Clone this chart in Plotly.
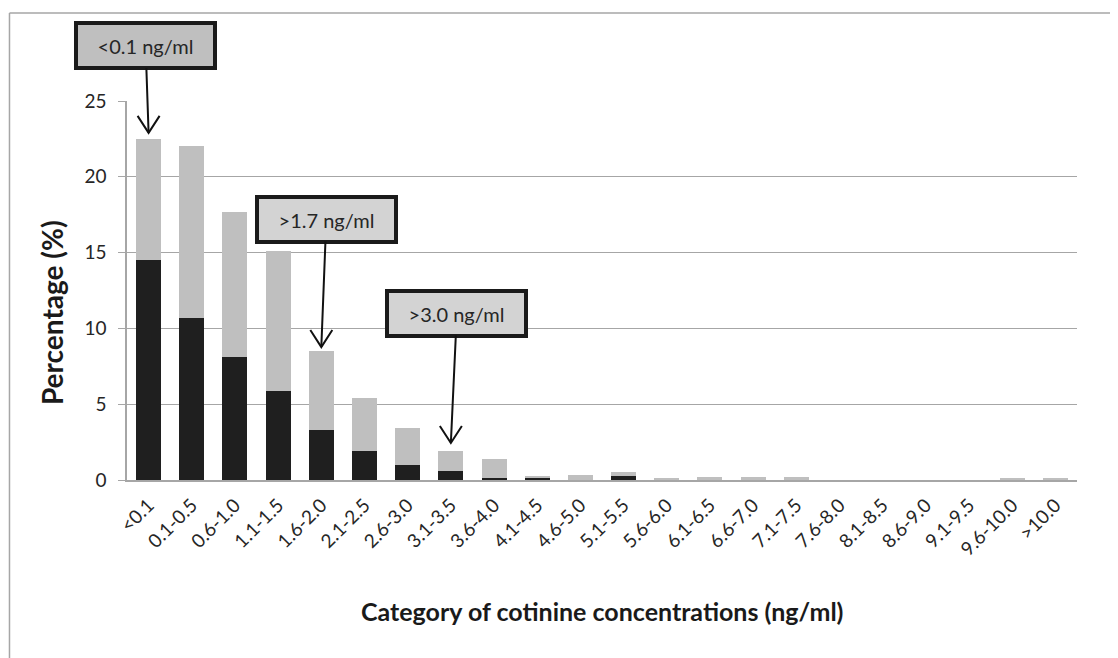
import plotly.graph_objects as go

categories = ["<0.1", "0.1-0.5", "0.6-1.0", "1.1-1.5", "1.6-2.0", "2.1-2.5", "2.6-3.0",
              "3.1-3.5", "3.6-4.0", "4.1-4.5", "4.6-5.0", "5.1-5.5", "5.6-6.0", "6.1-6.5",
              "6.6-7.0", "7.1-7.5", "7.6-8.0", "8.1-8.5", "8.6-9.0", "9.1-9.5", "9.6-10.0", ">10.0"]
black_part = [14.5, 10.7, 8.1, 5.9, 3.3, 1.9, 1.0, 0.6, 0.15, 0.15, 0.0, 0.27, 0.0, 0.0,
              0.0, 0.0, 0.0, 0.0, 0.0, 0.0, 0.0, 0.0]
total = [22.5, 22.0, 17.7, 15.1, 8.5, 5.4, 3.4, 1.9, 1.4, 0.2, 0.33, 0.5, 0.12, 0.2,
         0.2, 0.2, 0.0, 0.0, 0.0, 0.0, 0.1, 0.1]
gray_part = [round(t - b, 3) for t, b in zip(total, black_part)]

callout_labels = ["<0.1 ng/ml", ">1.7 ng/ml", ">3.0 ng/ml"]
callout_cats = ["<0.1", "1.6-2.0", "3.1-3.5"]
callout_tips = [22.9, 8.77, 2.44]
callout_fill = ["#bfbfbf", "#d3d3d3", "#d3d3d3"]
callout_ax = [-3, 5, 6]
callout_ay = [-87, -128, -130]

FONT = "Lato, 'Open Sans', sans-serif"
GRID = "#a6a6a6"

fig = go.Figure()
fig.add_trace(go.Bar(x=categories, y=black_part, marker=dict(color="#1f1f1f", line=dict(width=0)),
                     showlegend=False))
fig.add_trace(go.Bar(x=categories, y=gray_part, marker=dict(color="#bfbfbf", line=dict(width=0)),
                     showlegend=False))

for lab, cat, tip, fill, ax, ay in zip(callout_labels, callout_cats, callout_tips, callout_fill,
                                        callout_ax, callout_ay):
    fig.add_annotation(x=cat, y=tip, xref="x", yref="y", text=lab, showarrow=True,
                       arrowhead=0, arrowwidth=2, arrowcolor="#111111", ax=ax, ay=ay,
                       bgcolor=fill, bordercolor="#1a1a1a", borderwidth=4, borderpad=5,
                       width=125, height=31, font=dict(family=FONT, size=20, color="#262626"))
    fig.add_shape(type="path", xref="x", yref="y", xsizemode="pixel", ysizemode="pixel",
                  xanchor=cat, yanchor=tip, path="M -11,17 L 0,0 L 11,17",
                  line=dict(color="#111111", width=2))

# axis titles
fig.add_annotation(xref="paper", yref="paper", x=-0.079, y=0.443, xanchor="center",
                   yanchor="middle", showarrow=False,
                   text="<b>Percentage (%)</b>", textangle=-90,
                   font=dict(family=FONT, size=28, color="#1a1a1a"))
fig.add_annotation(xref="paper", yref="paper", x=0.5, y=-0.3456, xanchor="center",
                   yanchor="middle", showarrow=False,
                   text="<b>Category of cotinine concentrations (ng/ml)</b>",
                   font=dict(family=FONT, size=25, color="#1a1a1a"))

# outer frame (left and top edges)
fig.add_shape(type="line", xref="paper", yref="paper", x0=-0.1237, x1=-0.1237, y0=1.232, y1=-0.52,
              line=dict(color="#a6a6a6", width=1.5))
fig.add_shape(type="line", xref="paper", yref="paper", x0=-0.1237, x1=1.06, y0=1.232, y1=1.232,
              line=dict(color="#a6a6a6", width=1.5))

fig.update_layout(
    width=1118, height=658,
    barmode="stack", bargap=0.42,
    paper_bgcolor="white", plot_bgcolor="white",
    margin=dict(l=119, r=49, t=93, b=186),
    font=dict(family=FONT, color="#262626"),
    xaxis=dict(range=[-0.5, len(categories) - 0.5], autorange=False,
               showline=True, linecolor=GRID, linewidth=1.5, ticks="", showgrid=False,
               tickangle=-45, tickfont=dict(size=19, color="#262626"), automargin=False,
               ticklabelstandoff=5),
    yaxis=dict(range=[0, 25], autorange=False, tickvals=[0, 5, 10, 15, 20, 25], showline=True,
               linecolor=GRID, linewidth=1.5, ticks="outside", ticklen=7, tickcolor=GRID,
               showgrid=True, gridcolor=GRID, gridwidth=1, zeroline=False, ticklabelstandoff=8,
               tickfont=dict(size=19, color="#262626"), automargin=False),
)

fig.write_html("out.html")
